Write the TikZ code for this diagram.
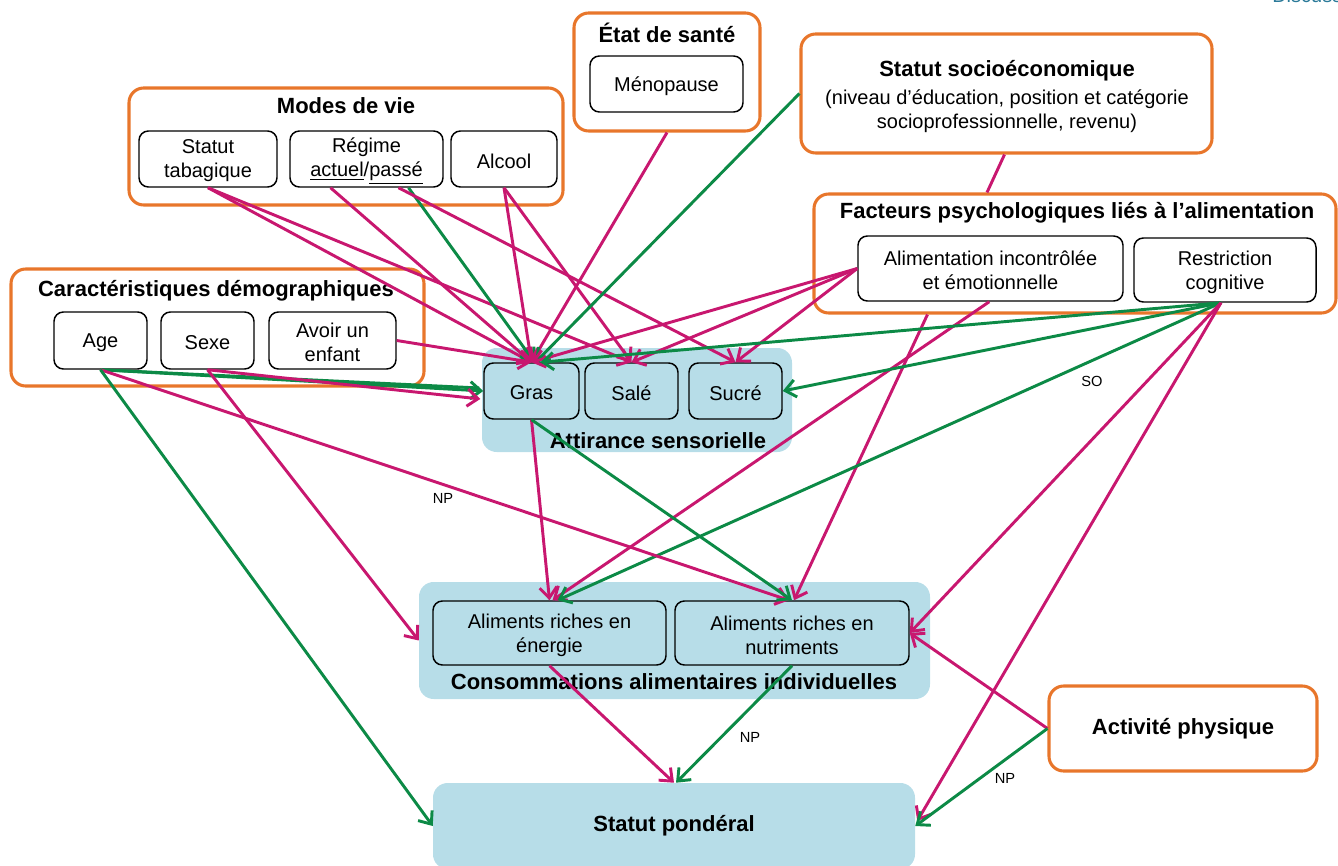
\documentclass[tikz,border=0pt]{standalone}
\usepackage{fontspec}
\setmainfont{Liberation Sans}
\usetikzlibrary{arrows.meta,calc,fit}
\definecolor{mag}{RGB}{200,23,111}
\definecolor{grn}{RGB}{12,138,70}
\definecolor{org}{RGB}{232,118,43}
\definecolor{lblue}{RGB}{183,221,232}
\definecolor{tealtxt}{RGB}{43,122,153}
\begin{document}
\begin{tikzpicture}[x=0.75pt,y=-0.75pt,
  grp/.style={draw=org, line width=2.3pt, rounded corners=11pt, fill=white, inner sep=0pt},
  bgbox/.style={fill=lblue, rounded corners=11pt, inner sep=0pt},
  item/.style={draw=black, line width=1.1pt, rounded corners=7pt, inner sep=0pt},
  bitem/.style={item, fill=lblue},
  itxt/.style={align=center, inner sep=0pt, yshift=-1.5pt, font=\fontsize{15}{18}\selectfont},
  ttl/.style={font=\fontsize{16.5}{19}\selectfont\bfseries, inner sep=0pt},
  lab/.style={font=\fontsize{11}{13}\selectfont, inner sep=0pt},
  tip/.style={-{Straight Barb[length=8pt,width=13pt]}},
  ma/.style={draw=mag, line width=2.2pt, tip},
  ga/.style={draw=grn, line width=2.2pt, tip},
  ml/.style={draw=mag, line width=2.2pt},
  gl/.style={draw=grn, line width=2.2pt}
]
\useasboundingbox (0,0) rectangle (1338,866);

\node[anchor=base west, text=tealtxt, font=\fontsize{15}{18}\selectfont, inner sep=0pt] (disc) at (1272,3) {Discussion};

% orange groups
\node[grp, fit={(129,88) (563,205)}] (modes) {};
\node[ttl] (modesT) at (346,106) {Modes de vie};
\node[item, fit={(139,131) (277,187)}, label={[itxt]center:{Statut\\tabagique}}] (stat) {};
\node[item, fit={(290,131) (443,187)}, label={[itxt]center:{Régime\\\underline{actuel}/\underline{passé}}}] (regime) {};
\node[item, fit={(451,131) (557,187)}, label={[itxt]center:Alcool}] (alcool) {};

\node[grp, fit={(574,13) (760,131)}] (etat) {};
\node[ttl] (etatT) at (667,33) {État de santé};
\node[item, fit={(590,56) (743,112)}, label={[itxt]center:Ménopause}] (meno) {};

\node[grp, fit={(801,34) (1212,153)}] (socio) {};
\node[ttl] (socioT) at (1007,71) {Statut socioéconomique};
\node[itxt] (socioS) at (1007,109) {(niveau d’éducation, position et catégorie\\socioprofessionnelle, revenu)};

\node[grp, fit={(814,194) (1336,313)}] (fact) {};
\node[ttl] (factT) at (1077,213) {Facteurs psychologiques liés à l’alimentation};
\node[item, fit={(858,236) (1123,301)}, label={[itxt]center:{Alimentation incontrôlée\\et émotionnelle}}] (alim) {};
\node[item, fit={(1134,238) (1316,302)}, label={[itxt]center:{Restriction\\cognitive}}] (restr) {};

\node[grp, fit={(11,269) (424,386)}] (demo) {};
\node[ttl] (demoT) at (216,291) {Caractéristiques démographiques};
\node[item, fit={(54,312) (147,369)}, label={[itxt]center:Age}] (age) {};
\node[item, fit={(161,312) (254,369)}, label={[itxt]center:Sexe}] (sexe) {};
\node[item, fit={(269,312) (396,369)}, label={[itxt]center:{Avoir un\\enfant}}] (enfant) {};

\node[grp, fit={(1049,686) (1317,771)}, label={[ttl]center:Activité physique}] (act) {};

% blue groups
\node[bgbox, fit={(482,348) (792,452)}] (attir) {};
\node[bitem, fit={(484,363) (579,419)}, label={[itxt]center:Gras}] (gras) {};
\node[bitem, fit={(585,363) (678,419)}, label={[itxt]center:Salé}] (sale) {};
\node[bitem, fit={(689,363) (782,419)}, label={[itxt]center:Sucré}] (sucre) {};
\node[ttl] (attirT) at (658,441) {Attirance sensorielle};

\node[bgbox, fit={(419,582) (930,699)}] (conso) {};
\node[bitem, fit={(433,601) (666,665)}, label={[itxt]center:{Aliments riches en\\énergie}}] (energie) {};
\node[bitem, fit={(675,601) (909,665)}, label={[itxt]center:{Aliments riches en\\nutriments}}] (nutri) {};
\node[ttl] (consoT) at (674,682) {Consommations alimentaires individuelles};

\node[bgbox, fit={(433,783) (915,869)}, label={[ttl]center:Statut pondéral}] (pond) {};

% labels
\node[lab] (np1) at (443,498) {NP};
\node[lab] (np2) at (750,737) {NP};
\node[lab] (np3) at (1005,778) {NP};
\node[lab] (so) at (1092,381) {SO};

% connectors
\draw[ma] (stat.south) -- (gras.north);
\draw[ma] (stat.south) -- (sale.north);
\draw[ma] ($(regime.south)+(-36,0)$) -- (gras.north);
\draw[ga] ($(regime.south)+(42,0)$) -- ($(gras.north)+(3,0)$);
\draw[ma] ($(regime.south)+(32,0)$) -- (sucre.north);
\draw[ma] (alcool.south) -- (gras.north);
\draw[ma] (alcool.south) -- (sale.north);
\draw[ma] (etat.south) -- (gras.north);
\draw[ga] (socio.west) -- ($(gras.north)+(4,0)$);
\draw[ml] ($(socio.south)+(-2,0)$) -- ($(fact.north)+(-88,0)$);
\draw[ma] (alim.west) -- (gras.north);
\draw[ma] (alim.west) -- (sale.north);
\draw[ma] (alim.west) -- (sucre.north);
\draw[ma] ($(fact.south west)+(115,0)$) -- ($(nutri.north)+(2,0)$);
\draw[ma] ($(alim.south west)+(132,0)$) -- ($(energie.north)+(3,0)$);
\draw[ga] ($(restr.south)+(-4,0)$) -- ($(gras.north)+(9,0)$);
\draw[ga] ($(restr.south)+(-4,0)$) -- (sucre.east);
\draw[ga] ($(restr.south)+(-4,0)$) -- ($(energie.north)+(8,0)$);
\draw[ma] ($(restr.south)+(-4,0)$) -- (nutri.east);
\draw[ma] ($(restr.south)+(-4,0)$) -- ($(pond.east)+(2,-5)$);
\draw[gl] (age.south) -- ($(gras.west)+(-4,-3)$);
\draw[ga] (age.south) -- (gras.west);
\draw[ma] (age.south) -- ($(nutri.north)+(-3,0)$);
\draw[ga] (age.south) -- (pond.west);
\draw[ma] (sexe.south) -- ($(gras.west)+(-3,8)$);
\draw[ma] (sexe.south) -- (conso.west);
\draw[ma] (enfant.east) -- (gras.north);
\draw[ma] (gras.south) -- (energie.north);
\draw[ga] (gras.south) -- (nutri.north);
\draw[ma] (energie.south) -- (pond.north);
\draw[ga] (nutri.south) -- ($(pond.north)+(2,0)$);
\draw[ma] (act.west) -- (nutri.east);
\draw[ga] (act.west) -- (pond.east);
\end{tikzpicture}
\end{document}
